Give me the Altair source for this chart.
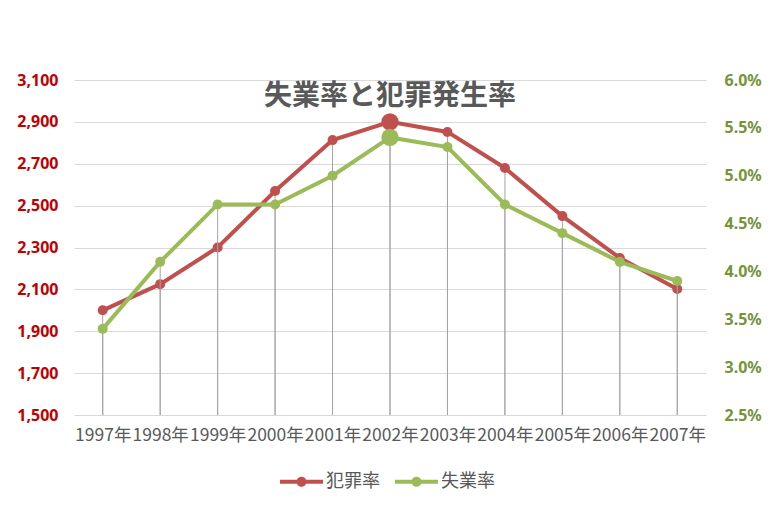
import altair as alt
import pandas as pd

years = ["1997年", "1998年", "1999年", "2000年", "2001年", "2002年",
         "2003年", "2004年", "2005年", "2006年", "2007年"]
crime = [2000, 2125, 2300, 2570, 2813, 2900, 2852, 2680, 2450, 2250, 2102]
unemp = [3.4, 4.1, 4.7, 4.7, 5.0, 5.4, 5.3, 4.7, 4.4, 4.1, 3.9]
highlight = ["n", "n", "n", "n", "n", "y", "n", "n", "n", "n", "n"]
series_names = ["犯罪率", "失業率"]
series_colors = ["#c0504d", "#9bbb59"]
left_ticks = [1500, 1700, 1900, 2100, 2300, 2500, 2700, 2900, 3100]
right_ticks = [2.5, 3.0, 3.5, 4.0, 4.5, 5.0, 5.5, 6.0]

crime_df = pd.DataFrame({"year": years, "value": crime, "hl": highlight,
                         "series": series_names[0]})
unemp_df = pd.DataFrame({"year": years, "value": unemp, "hl": highlight,
                         "series": series_names[1]})

FONT = "Noto Sans CJK JP"
NUM_FONT = "Noto Sans"

x_axis = alt.Axis(labelAngle=0, labelFont=FONT, labelFontSize=17.5,
                  labelColor="#595959", labelPadding=11, labelOverlap=False,
                  ticks=False, domain=False, grid=False)
x_enc = alt.X("year:N", sort=None, title=None,
              scale=alt.Scale(type="point", padding=0.5), axis=x_axis)

color_enc = alt.Color("series:N",
                      scale=alt.Scale(domain=series_names, range=series_colors),
                      legend=alt.Legend(
                          title=None, orient="none", direction="horizontal",
                          legendX=206, legendY=380,
                          symbolType="M-1,-0.093L1,-0.093L1,0.093L-1,0.093Z"
                                     "M0.233,0A0.233,0.233,0,1,1,-0.233,0"
                                     "A0.233,0.233,0,1,1,0.233,0Z",
                          symbolSize=1849, symbolStrokeWidth=0,
                          labelFont=FONT, labelFontSize=18,
                          labelColor="#595959", labelOffset=3,
                          columnPadding=15, symbolOpacity=1))

size_enc = alt.Size("hl:N", scale=alt.Scale(domain=["n", "y"], range=[100, 300]),
                    legend=None)

# crime (left axis)
ys_left = alt.Scale(domain=[1500, 3100], nice=False, zero=False)
left_axis = alt.Axis(values=left_ticks, format=",.0f", labelFont=NUM_FONT,
                     labelFontSize=16, labelFontWeight="bold",
                     labelColor="#c00000", labelPadding=16, ticks=False,
                     domain=False, grid=True, gridColor="#d9d9d9",
                     gridWidth=1, title=None)
yl = alt.Y("value:Q", scale=ys_left, axis=left_axis)

base_c = alt.Chart(crime_df)
c_rule = base_c.mark_rule(color="#a6a6a6", strokeWidth=1).encode(
    x=x_enc, y=yl, y2=alt.datum(1500))
c_line = base_c.mark_line(color=series_colors[0], strokeWidth=4).encode(
    x=x_enc, y=yl)
c_pts = base_c.mark_circle(opacity=1).encode(
    x=x_enc, y=yl, color=color_enc, size=size_enc)
crime_layer = alt.layer(c_rule, c_line, c_pts)

# unemployment (right axis)
ys_right = alt.Scale(domain=[2.5, 6.0], nice=False, zero=False)
right_axis = alt.Axis(orient="right", values=right_ticks,
                      labelExpr="format(datum.value, '.1f') + '%'",
                      labelFont=NUM_FONT, labelFontSize=16,
                      labelFontWeight="bold", labelColor="#77933c",
                      labelPadding=18, ticks=False, domain=False, grid=False,
                      title=None)
yr = alt.Y("value:Q", scale=ys_right, axis=right_axis)

base_u = alt.Chart(unemp_df)
u_rule = base_u.mark_rule(color="#a6a6a6", strokeWidth=1).encode(
    x=x_enc, y=yr, y2=alt.datum(2.5))
u_line = base_u.mark_line(color=series_colors[1], strokeWidth=4).encode(
    x=x_enc, y=yr)
u_pts = base_u.mark_circle(opacity=1).encode(
    x=x_enc, y=yr, color=color_enc, size=size_enc)
unemp_layer = alt.layer(u_rule, u_line, u_pts)

chart = alt.layer(crime_layer, unemp_layer).resolve_scale(
    y="independent"
).properties(
    width=632, height=335,
    title=alt.TitleParams("失業率と犯罪発生率", font=FONT, fontSize=28,
                          fontWeight="bold", color="#595959",
                          anchor="middle", frame="group", offset=-39),
    autosize=alt.AutoSizeParams(type="none"),
    padding={"left": 66, "top": 72, "right": 60, "bottom": 90},
    background="white",
).configure_view(stroke=None)

chart.save("out.html", embed_options={"renderer": "svg", "actions": False})
